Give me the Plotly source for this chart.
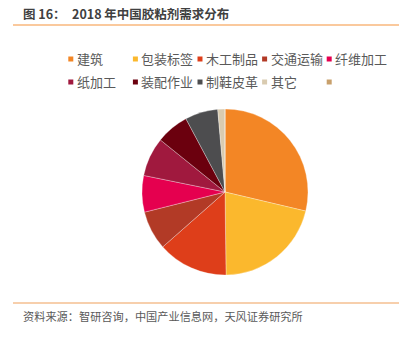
import plotly.graph_objects as go

W, H = 414, 337

categories = ["建筑", "包装标签", "木工制品", "交通运输", "纤维加工",
              "纸加工", "装配作业", "制鞋皮革", "其它", ""]
values = [28.7, 21.1, 13.7, 7.6, 7.1, 7.6, 6.4, 6.4, 1.4, 0.0]
colors = ["#F38625", "#FBB82D", "#DE3E1A", "#B23A26", "#E5004F",
          "#A0193E", "#6B000E", "#4D4D4F", "#D9CBB0", "#C8A06C"]

title_prefix = "图 16："
title_text = "2018 年中国胶粘剂需求分布"
source_text = "资料来源：智研咨询，中国产业信息网，天风证券研究所"

FONT = "Noto Sans CJK SC, Microsoft YaHei, sans-serif"


def px(x):
    return x / W


def py(y):
    return 1 - y / H


# pie geometry (pixels)
cx, cy, r = 225, 192, 83

fig = go.Figure(go.Pie(
    labels=[c if c else " " for c in categories],
    values=values,
    marker=dict(colors=colors, line=dict(color="rgba(255,255,255,0.6)", width=0.5)),
    sort=False,
    direction="clockwise",
    rotation=0,
    textinfo="none",
    hoverinfo="label+percent",
    showlegend=False,
    domain=dict(x=[px(cx - r), px(cx + r)], y=[py(cy + r), py(cy - r)]),
))

shapes = []
annotations = []

# header / footer rules
shapes.append(dict(type="line", xref="paper", yref="paper",
                   x0=px(13), x1=px(399), y0=py(25), y1=py(25),
                   line=dict(color="#F9B77D", width=1.5)))
shapes.append(dict(type="line", xref="paper", yref="paper",
                   x0=px(13), x1=px(399), y0=py(303), y1=py(303),
                   line=dict(color="#F0A05A", width=1.2)))

# title
annotations.append(dict(text="<b>" + title_prefix + "</b>", xref="paper", yref="paper",
                        x=px(21), y=py(13.5), xanchor="left", yanchor="middle",
                        showarrow=False, font=dict(family=FONT, size=12.5, color="#404040")))
annotations.append(dict(text="<b>" + title_text + "</b>", xref="paper", yref="paper",
                        x=px(70), y=py(13.5), xanchor="left", yanchor="middle",
                        showarrow=False, font=dict(family=FONT, size=12.5, color="#404040")))

# source
annotations.append(dict(text=source_text, xref="paper", yref="paper",
                        x=px(21), y=py(315.5), xanchor="left", yanchor="middle",
                        showarrow=False, font=dict(family=FONT, size=11.2, color="#595959")))

# custom legend
lx0, ldx = 68.3, 64.6
ly = [59, 82]
sq = 5
for i, (name, col) in enumerate(zip(categories, colors)):
    c, rw = i % 5, i // 5
    x0 = lx0 + c * ldx
    yc = ly[rw]
    shapes.append(dict(type="rect", xref="paper", yref="paper",
                       x0=px(x0), x1=px(x0 + sq), y0=py(yc + sq / 2), y1=py(yc - sq / 2),
                       fillcolor=col, line=dict(width=0)))
    if name:
        annotations.append(dict(text=name, xref="paper", yref="paper",
                                x=px(x0 + 6.5), y=py(yc), xanchor="left", yanchor="middle",
                                showarrow=False,
                                font=dict(family=FONT, size=13, color="#595959")))

fig.update_layout(
    width=W, height=H,
    margin=dict(l=0, r=0, t=0, b=0),
    paper_bgcolor="white", plot_bgcolor="white",
    shapes=shapes, annotations=annotations,
    showlegend=False,
)

fig.write_html("out.html")
